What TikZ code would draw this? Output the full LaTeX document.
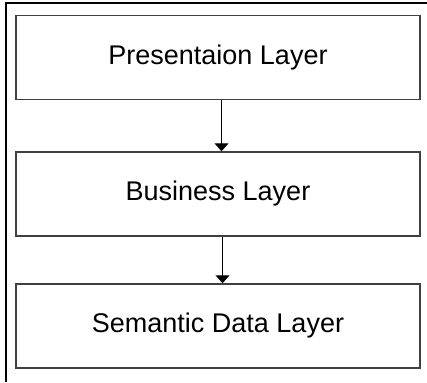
\documentclass[tikz,border=0pt]{standalone}
\usepackage{fontspec}
\setmainfont{Liberation Sans}
\usetikzlibrary{positioning,arrows.meta}

\begin{document}
\begin{tikzpicture}[x=1pt, y=-1pt,
  layer/.style={draw=black!75, line width=1.5pt, minimum width=404pt, minimum height=84pt, inner sep=0pt, font=\fontsize{27}{30}\selectfont},
  flow/.style={-{Triangle[length=8pt, width=14pt]}, line width=1pt}]
\useasboundingbox (0,0) rectangle (427,382);
\draw[line width=2pt] (6,382) -- (6,3.5) -- (427,3.5);

\node[layer] (pres) at (218, 57.5) {Presentaion Layer};
\node[layer] (bus) at (218, 194) {Business Layer};
\node[layer] (sem) at (218, 326) {Semantic Data Layer};

\draw[flow] ([xshift=3.5pt]pres.south) -- ([xshift=3.5pt]bus.north);
\draw[flow] ([xshift=4.5pt]bus.south) -- ([xshift=4.5pt]sem.north);
\end{tikzpicture}
\end{document}
